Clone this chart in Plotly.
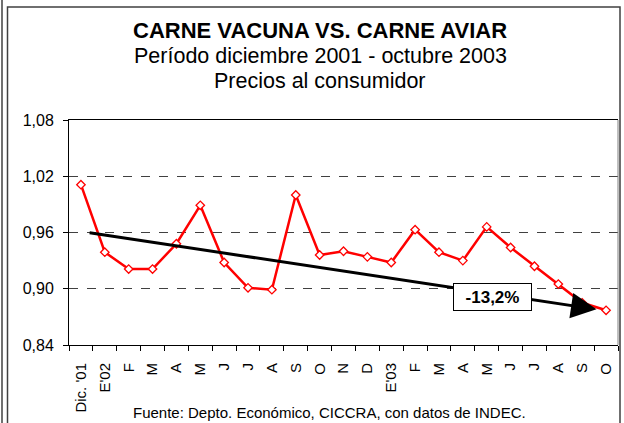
import plotly.graph_objects as go

# ---- data ----
month_labels = ["Dic. '01", "E'02", "F", "M", "A", "M", "J", "J", "A", "S", "O", "N", "D",
                "E'03", "F", "M", "A", "M", "J", "J", "A", "S", "O"]
price_ratio = [1.011, 0.939, 0.921, 0.921, 0.948, 0.989, 0.928, 0.901, 0.899, 1.000,
               0.936, 0.940, 0.934, 0.928, 0.963, 0.939, 0.930, 0.966, 0.944, 0.924,
               0.905, 0.885, 0.877]
trend_start = (0.3, 0.960)
trend_end = (21.6, 0.878)
trend_label = "-13,2%"
trend_label_pos = (17.24, 0.891)
y_ticks = [0.84, 0.90, 0.96, 1.02, 1.08]

FONT = "Liberation Sans, Arial, sans-serif"
W, H = 624, 423
ML, MR, MT, MB = 69, 6, 120, 78
PW, PH = W - ML - MR, H - MT - MB


def px_x(px):
    return (px - ML) / PW


def px_y(py):
    return (H - MB - py) / PH


idx = list(range(len(month_labels)))

fig = go.Figure()
fig.add_trace(go.Scatter(
    x=idx, y=price_ratio, mode="lines+markers",
    line=dict(color="#FF0000", width=2.5),
    marker=dict(symbol="diamond", size=6.5, color="white",
                line=dict(color="#FF0000", width=1.3)),
    showlegend=False, hoverinfo="skip",
))

shapes = [
    dict(type="line", xref="paper", yref="paper", x0=px_x(2), x1=px_x(2), y0=px_y(0), y1=px_y(440),
         line=dict(color="#404040", width=1.5)),
    dict(type="rect", xref="paper", yref="paper", x0=px_x(7.5), x1=px_x(620), y0=px_y(440), y1=px_y(7),
         line=dict(color="#404040", width=1.5)),
    dict(type="line", xref="paper", yref="paper", x0=1, x1=1, y0=0, y1=1,
         line=dict(color="#808080", width=1)),
]

annotations = [
    dict(xref="paper", yref="paper", x=px_x(320), y=px_y(31), xanchor="center", yanchor="middle",
         text="<b>CARNE VACUNA VS. CARNE AVIAR</b>", showarrow=False,
         font=dict(family=FONT, size=22, color="black")),
    dict(xref="paper", yref="paper", x=px_x(320), y=px_y(56), xanchor="center", yanchor="middle",
         text="Período diciembre 2001 - octubre 2003", showarrow=False,
         font=dict(family=FONT, size=21.5, color="black")),
    dict(xref="paper", yref="paper", x=px_x(320), y=px_y(81), xanchor="center", yanchor="middle",
         text="Precios al consumidor", showarrow=False,
         font=dict(family=FONT, size=21.5, color="black")),
    dict(xref="paper", yref="paper", x=px_x(329), y=px_y(412), xanchor="center", yanchor="middle",
         text="Fuente: Depto. Económico, CICCRA, con datos de INDEC.", showarrow=False,
         font=dict(family=FONT, size=15, color="black")),
    dict(xref="x", yref="y", axref="x", ayref="y",
         x=trend_end[0], y=trend_end[1], ax=trend_start[0], ay=trend_start[1],
         text="", showarrow=True, arrowhead=2, arrowsize=1.7, arrowwidth=3,
         arrowcolor="black", standoff=0),
    dict(xref="x", yref="y", x=trend_label_pos[0], y=trend_label_pos[1],
         text="<b>" + trend_label + "</b>", showarrow=False,
         font=dict(family=FONT, size=17, color="black"),
         bgcolor="white", bordercolor="black", borderwidth=1, borderpad=0,
         width=77, height=26, xanchor="center", yanchor="middle"),
]

fig.update_layout(
    width=W, height=H,
    margin=dict(l=ML, r=MR, t=MT, b=MB, pad=0),
    paper_bgcolor="white", plot_bgcolor="white",
    separators=",.",
    font=dict(family=FONT, color="black"),
    shapes=shapes, annotations=annotations,
    xaxis=dict(
        range=[-0.5, len(month_labels) - 0.5],
        tickmode="array", tickvals=idx, ticktext=month_labels,
        tickangle=-90, tickfont=dict(family=FONT, size=15, color="black"),
        ticks="outside", ticklen=5, tickcolor="rgba(0,0,0,0)",
        ticklabelstandoff=6,
        minor=dict(ticks="outside", ticklen=5, tickcolor="black", tick0=-0.5, dtick=1, showgrid=False),
        showgrid=False, zeroline=False,
        showline=True, linecolor="black", linewidth=1, mirror=True,
        fixedrange=True,
    ),
    yaxis=dict(
        range=[0.84, 1.08], tickmode="array", tickvals=y_ticks,
        tickformat=".2f", tickfont=dict(family=FONT, size=16, color="black"),
        ticks="outside", ticklen=5, tickcolor="black", ticklabelstandoff=6,
        showgrid=True, gridcolor="#404040", griddash="dash", gridwidth=1,
        zeroline=False, showline=True, linecolor="black", linewidth=1,
        fixedrange=True,
    ),
)

fig.write_html(
    "out.html",
    config={"displayModeBar": False, "staticPlot": True},
    post_script="document.body.style.margin='0';document.body.style.overflow='hidden';",
)
